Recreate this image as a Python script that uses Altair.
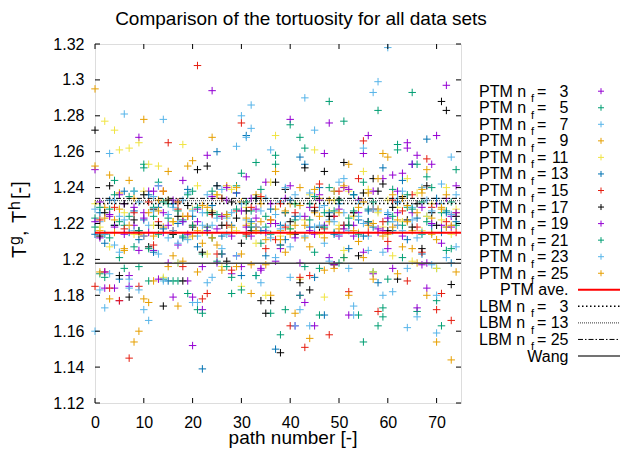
import altair as alt
import pandas as pd

FONT = "Liberation Sans"

# ---------------- data ----------------
path_number = list(range(75))
nf_values = [3, 5, 7, 9, 11, 13, 15, 17, 19, 21, 23, 25]

ptm03 = [1.250, 1.212, 1.184, 1.224, 1.184, 1.177, 1.231, 1.191, 1.219, 1.268,
         1.226, 1.238, 1.205, 1.241, 1.215, 1.198, 1.179, 1.232, 1.244, 1.188,
         1.152, 1.221, 1.196, 1.258, 1.294, 1.217, 1.203, 1.233, 1.192, 1.237,
         1.196, 1.246, 1.213, 1.228, 1.195, 1.243, 1.220, 1.199, 1.208, 1.234,
         1.278, 1.163, 1.198, 1.176, 1.229, 1.214, 1.236, 1.259, 1.201, 1.224,
         1.213, 1.240, 1.169, 1.219, 1.233, 1.259, 1.269, 1.192, 1.217, 1.245,
         1.206, 1.247, 1.238, 1.248, 1.265, 1.226, 1.258, 1.197, 1.198, 1.253,
         1.231, 1.219, 1.297, 1.224, 1.241]
ptm05 = [1.223, 1.192, 1.214, 1.228, 1.244, 1.201, 1.219, 1.235, 1.207, 1.196,
         1.253, 1.188, 1.224, 1.243, 1.189, 1.231, 1.214, 1.188, 1.222, 1.181,
         1.238, 1.172, 1.203, 1.226, 1.212, 1.199, 1.234, 1.219, 1.190, 1.241,
         1.248, 1.213, 1.227, 1.254, 1.209, 1.218, 1.170, 1.258, 1.158, 1.172,
         1.275, 1.222, 1.268, 1.196, 1.231, 1.204, 1.169, 1.226, 1.288, 1.215,
         1.198, 1.277, 1.223, 1.236, 1.169, 1.154, 1.228, 1.193, 1.283, 1.168,
         1.221, 1.239, 1.264, 1.201, 1.229, 1.293, 1.171, 1.232, 1.246, 1.215,
         1.195, 1.163, 1.227, 1.206, 1.250]
ptm07 = [1.160, 1.221, 1.173, 1.259, 1.208, 1.224, 1.281, 1.189, 1.216, 1.232,
         1.172, 1.219, 1.235, 1.203, 1.278, 1.212, 1.229, 1.198, 1.221, 1.237,
         1.176, 1.213, 1.226, 1.187, 1.219, 1.241, 1.206, 1.223, 1.215, 1.263,
         1.280, 1.222, 1.286, 1.191, 1.227, 1.216, 1.261, 1.201, 1.232, 1.219,
         1.190, 1.236, 1.224, 1.290, 1.163, 1.218, 1.229, 1.209, 1.222, 1.238,
         1.214, 1.226, 1.195, 1.169, 1.231, 1.220, 1.213, 1.293, 1.227, 1.204,
         1.318, 1.221, 1.234, 1.216, 1.162, 1.229, 1.212, 1.240, 1.224, 1.197,
         1.159, 1.231, 1.218, 1.257, 1.207]
ptm09 = [1.295, 1.216, 1.229, 1.178, 1.222, 1.237, 1.206, 1.244, 1.154, 1.214,
         1.278, 1.226, 1.188, 1.233, 1.218, 1.249, 1.202, 1.174, 1.224, 1.252,
         1.213, 1.193, 1.230, 1.218, 1.268, 1.208, 1.224, 1.241, 1.215, 1.196,
         1.232, 1.219, 1.197, 1.236, 1.221, 1.211, 1.180, 1.228, 1.216, 1.204,
         1.231, 1.219, 1.240, 1.212, 1.156, 1.226, 1.234, 1.194, 1.221, 1.238,
         1.217, 1.201, 1.253, 1.224, 1.210, 1.232, 1.219, 1.189, 1.228, 1.259,
         1.214, 1.236, 1.222, 1.207, 1.230, 1.216, 1.198, 1.237, 1.250, 1.223,
         1.211, 1.229, 1.218, 1.144, 1.226]
ptm11 = [1.231, 1.218, 1.277, 1.207, 1.272, 1.261, 1.226, 1.262, 1.214, 1.265,
         1.238, 1.253, 1.219, 1.252, 1.190, 1.233, 1.221, 1.198, 1.264, 1.212,
         1.228, 1.241, 1.215, 1.203, 1.227, 1.236, 1.196, 1.224, 1.239, 1.216,
         1.185, 1.229, 1.220, 1.209, 1.234, 1.180, 1.243, 1.269, 1.213, 1.226,
         1.217, 1.231, 1.189, 1.222, 1.236, 1.261, 1.214, 1.179, 1.227, 1.233,
         1.219, 1.205, 1.238, 1.224, 1.215, 1.249, 1.239, 1.193, 1.226, 1.218,
         1.233, 1.202, 1.229, 1.221, 1.245, 1.199, 1.237, 1.216, 1.224, 1.231,
         1.195, 1.222, 1.240, 1.214, 1.228]
ptm13 = [1.214, 1.226, 1.209, 1.233, 1.219, 1.189, 1.238, 1.215, 1.227, 1.211,
         1.222, 1.236, 1.204, 1.229, 1.217, 1.188, 1.231, 1.220, 1.212, 1.239,
         1.224, 1.207, 1.139, 1.218, 1.230, 1.260, 1.213, 1.225, 1.219, 1.237,
         1.191, 1.269, 1.221, 1.234, 1.216, 1.202, 1.228, 1.150, 1.219, 1.211,
         1.233, 1.224, 1.257, 1.253, 1.218, 1.190, 1.240, 1.169, 1.226, 1.214,
         1.231, 1.219, 1.206, 1.236, 1.222, 1.213, 1.227, 1.218, 1.187, 1.251,
         1.225, 1.216, 1.232, 1.244, 1.211, 1.253, 1.223, 1.203, 1.267, 1.219,
         1.234, 1.215, 1.226, 1.198, 1.221]
ptm15 = [1.185, 1.222, 1.193, 1.184, 1.229, 1.177, 1.217, 1.145, 1.226, 1.185,
         1.213, 1.232, 1.208, 1.221, 1.238, 1.265, 1.216, 1.228, 1.196, 1.224,
         1.219, 1.308, 1.178, 1.181, 1.225, 1.203, 1.234, 1.219, 1.194, 1.227,
         1.276, 1.214, 1.229, 1.218, 1.235, 1.206, 1.222, 1.211, 1.231, 1.218,
         1.163, 1.226, 1.190, 1.151, 1.191, 1.229, 1.242, 1.217, 1.158, 1.224,
         1.238, 1.219, 1.182, 1.226, 1.245, 1.266, 1.215, 1.228, 1.171, 1.221,
         1.210, 1.233, 1.219, 1.227, 1.188, 1.236, 1.218, 1.204, 1.256, 1.229,
         1.172, 1.181, 1.221, 1.166, 1.215]
ptm17 = [1.272, 1.213, 1.226, 1.241, 1.219, 1.191, 1.231, 1.179, 1.222, 1.216,
         1.236, 1.207, 1.228, 1.219, 1.174, 1.233, 1.214, 1.224, 1.188, 1.230,
         1.218, 1.250, 1.204, 1.252, 1.226, 1.241, 1.219, 1.199, 1.232, 1.223,
         1.209, 1.227, 1.216, 1.234, 1.177, 1.170, 1.177, 1.243, 1.148, 1.239,
         1.221, 1.214, 1.187, 1.251, 1.183, 1.227, 1.218, 1.249, 1.224, 1.197,
         1.233, 1.254, 1.219, 1.226, 1.202, 1.237, 1.221, 1.245, 1.238, 1.242,
         1.216, 1.229, 1.189, 1.235, 1.222, 1.218, 1.231, 1.206, 1.241, 1.226,
         1.219, 1.288, 1.283, 1.186, 1.224]
ptm19 = [1.221, 1.232, 1.193, 1.225, 1.218, 1.236, 1.214, 1.185, 1.229, 1.205,
         1.223, 1.215, 1.238, 1.189, 1.226, 1.219, 1.233, 1.208, 1.221, 1.214,
         1.179, 1.228, 1.172, 1.216, 1.235, 1.198, 1.224, 1.240, 1.213, 1.202,
         1.227, 1.218, 1.234, 1.223, 1.194, 1.215, 1.231, 1.220, 1.206, 1.226,
         1.241, 1.212, 1.180, 1.224, 1.216, 1.163, 1.233, 1.219, 1.276, 1.197,
         1.228, 1.217, 1.239, 1.213, 1.226, 1.204, 1.221, 1.238, 1.215, 1.216,
         1.223, 1.195, 1.226, 1.213, 1.262, 1.253, 1.173, 1.229, 1.184, 1.220,
         1.269, 1.209, 1.234, 1.218, 1.226]
ptm21 = [1.218, 1.229, 1.190, 1.212, 1.236, 1.221, 1.195, 1.224, 1.238, 1.216,
         1.251, 1.206, 1.229, 1.214, 1.232, 1.223, 1.188, 1.227, 1.213, 1.236,
         1.219, 1.229, 1.170, 1.215, 1.238, 1.225, 1.203, 1.196, 1.181, 1.228,
         1.183, 1.232, 1.218, 1.191, 1.239, 1.224, 1.214, 1.253, 1.208, 1.226,
         1.217, 1.231, 1.180, 1.262, 1.222, 1.235, 1.195, 1.218, 1.240, 1.227,
         1.233, 1.201, 1.219, 1.227, 1.214, 1.243, 1.221, 1.232, 1.163, 1.173,
         1.189, 1.224, 1.261, 1.219, 1.236, 1.228, 1.253, 1.214, 1.221, 1.240,
         1.177, 1.226, 1.205, 1.232, 1.219]
ptm23 = [1.228, 1.183, 1.214, 1.192, 1.233, 1.204, 1.222, 1.184, 1.238, 1.183,
         1.213, 1.166, 1.227, 1.241, 1.188, 1.225, 1.216, 1.209, 1.233, 1.211,
         1.227, 1.176, 1.219, 1.236, 1.190, 1.223, 1.239, 1.214, 1.226, 1.202,
         1.231, 1.268, 1.273, 1.218, 1.187, 1.234, 1.212, 1.225, 1.217, 1.240,
         1.207, 1.163, 1.172, 1.213, 1.237, 1.272, 1.219, 1.230, 1.199, 1.221,
         1.243, 1.245, 1.216, 1.174, 1.224, 1.262, 1.205, 1.228, 1.299, 1.180,
         1.226, 1.182, 1.219, 1.238, 1.195, 1.222, 1.168, 1.215, 1.233, 1.227,
         1.180, 1.242, 1.201, 1.225, 1.236]
ptm25 = [1.252, 1.193, 1.223, 1.247, 1.215, 1.228, 1.205, 1.219, 1.234, 1.160,
         1.178, 1.176, 1.213, 1.227, 1.238, 1.196, 1.221, 1.232, 1.199, 1.224,
         1.255, 1.216, 1.209, 1.229, 1.212, 1.236, 1.194, 1.225, 1.218, 1.240,
         1.203, 1.223, 1.181, 1.216, 1.231, 1.197, 1.222, 1.249, 1.211, 1.227,
         1.214, 1.170, 1.230, 1.219, 1.207, 1.239, 1.224, 1.212, 1.233, 1.195,
         1.226, 1.241, 1.180, 1.216, 1.229, 1.201, 1.237, 1.220, 1.245, 1.213,
         1.257, 1.218, 1.192, 1.234, 1.221, 1.206, 1.226, 1.239, 1.180, 1.214,
         1.154, 1.228, 1.236, 1.219, 1.193]

ptm_series = [ptm03, ptm05, ptm07, ptm09, ptm11, ptm13,
              ptm15, ptm17, ptm19, ptm21, ptm23, ptm25]
ptm_colors = ["#9400d3", "#009e73", "#56b4e9", "#e69f00", "#f0e442", "#0072b2",
              "#e51e10", "#000000", "#9400d3", "#009e73", "#56b4e9", "#e69f00"]

ptm_average = 1.2149
lbm_nf = [3, 13, 25]
lbm_values = [1.2312, 1.2327, 1.2340]
wang_value = 1.1978

x_ticks = [0, 10, 20, 30, 40, 50, 60, 70]
y_ticks = [1.12, 1.14, 1.16, 1.18, 1.2, 1.22, 1.24, 1.26, 1.28, 1.3, 1.32]

title_text = "Comparison of the tortuosity for all data sets"
x_title = "path number [-]"

# ---------------- layout ----------------
OX, OY = 95, 44          # plot origin in the window
W, H = 366, 359          # plot area
PLUS = "M-1,0L1,0M0,-1L0,1"

xs = alt.Scale(domain=[0, 75], nice=False, zero=False)
ys = alt.Scale(domain=[1.12, 1.32], nice=False, zero=False)

x_axis = alt.Axis(values=x_ticks, title=None, grid=False, ticks=False, domain=False,
                  labelFont=FONT, labelFontSize=16, labelColor="black",
                  labelPadding=11, labelFlush=False)
y_axis = alt.Axis(values=y_ticks, format="~g", title=None, grid=False, ticks=False,
                  domain=False, labelFont=FONT, labelFontSize=16, labelColor="black",
                  labelPadding=11, labelFlush=False)

names = [f"PTM {nf:02d}" for nf in nf_values]
rows = []
for k, (nm, vals) in enumerate(zip(names, ptm_series)):
    for p, v in zip(path_number, vals):
        rows.append({"path": p, "value": v, "series": nm, "k": k})
df = pd.DataFrame(rows)

points = alt.Chart(df).mark_point(
    shape=PLUS, filled=False, strokeWidth=1, size=56, opacity=1, clip=False
).encode(
    x=alt.X("path:Q", scale=xs, axis=x_axis),
    y=alt.Y("value:Q", scale=ys, axis=y_axis),
    color=alt.Color("series:N", scale=alt.Scale(domain=names, range=ptm_colors),
                    legend=None),
    order=alt.Order("k:Q"),
)

# inward tick marks
xt = pd.DataFrame({"path": x_ticks})
yt = pd.DataFrame({"value": y_ticks})
tick_len = 5
xtick_b = alt.Chart(xt).mark_rule(color="black", strokeWidth=1).encode(
    x=alt.X("path:Q", scale=xs, axis=x_axis), y=alt.value(H), y2=alt.value(H - tick_len))
xtick_t = alt.Chart(xt).mark_rule(color="black", strokeWidth=1).encode(
    x=alt.X("path:Q", scale=xs, axis=x_axis), y=alt.value(0), y2=alt.value(tick_len))
ytick_l = alt.Chart(yt).mark_rule(color="black", strokeWidth=1).encode(
    y=alt.Y("value:Q", scale=ys, axis=y_axis), x=alt.value(0), x2=alt.value(tick_len))
ytick_r = alt.Chart(yt).mark_rule(color="black", strokeWidth=1).encode(
    y=alt.Y("value:Q", scale=ys, axis=y_axis), x=alt.value(W - tick_len), x2=alt.value(W))

# horizontal reference lines
def hline(value, **style):
    return alt.Chart(pd.DataFrame({"value": [value]})).mark_rule(**style).encode(
        y=alt.Y("value:Q", scale=ys, axis=y_axis), x=alt.value(0), x2=alt.value(W))

styles = {
    "ave": dict(color="#ff0000", strokeWidth=2),
    "lbm3": dict(color="black", strokeWidth=1.5, strokeDash=[1.5, 2.5]),
    "lbm13": dict(color="#333333", strokeWidth=1, strokeDash=[1, 1]),
    "lbm25": dict(color="black", strokeWidth=1, strokeDash=[5, 2, 1.5, 2]),
    "wang": dict(color="#444444", strokeWidth=1.5),
}
lines = [hline(ptm_average, **styles["ave"]),
         hline(lbm_values[0], **styles["lbm3"]),
         hline(lbm_values[1], **styles["lbm13"]),
         hline(lbm_values[2], **styles["lbm25"]),
         hline(wang_value, **styles["wang"])]

# ---------------- legend (built from text / points / rules) ----------------
row_base0 = 96.7     # baseline of first legend row (window px)
row_step = 16.55
text_left = 479
text_right = 568.5
sub_x = 531
eq_x = 537
sym_x = 601
line_x1, line_x2 = 578, 622

def base_y(i):
    return row_base0 + i * row_step - OY

leg_rows = []
for i, nf in enumerate(nf_values):
    leg_rows.append(("PTM n", str(nf), i))
for j, nf in enumerate(lbm_nf):
    leg_rows.append(("LBM n", str(nf), 13 + j))

pref_df = pd.DataFrame({"x": [text_left - OX] * len(leg_rows),
                        "y": [base_y(r[2]) for r in leg_rows],
                        "t": [r[0] for r in leg_rows]})
sub_df = pd.DataFrame({"x": [sub_x - OX] * len(leg_rows),
                       "y": [base_y(r[2]) + 5.5 for r in leg_rows],
                       "t": ["f"] * len(leg_rows)})
eq_df = pd.DataFrame({"x": [eq_x - OX] * len(leg_rows),
                      "y": [base_y(r[2]) for r in leg_rows],
                      "t": ["="] * len(leg_rows)})
num_df = pd.DataFrame({"x": [text_right - OX] * len(leg_rows),
                       "y": [base_y(r[2]) for r in leg_rows],
                       "t": [r[1] for r in leg_rows]})
right_df = pd.DataFrame({"x": [text_right - OX] * 2,
                         "y": [base_y(12), base_y(16)],
                         "t": ["PTM ave.", "Wang"]})

def text_layer(d, align, size, **kw):
    return alt.Chart(d).mark_text(align=align, baseline="alphabetic", font=FONT,
                                  fontSize=size, color="black", **kw).encode(
        x=alt.X("x:Q", scale=None, axis=None),
        y=alt.Y("y:Q", scale=None, axis=None),
        text="t:N")

sym_df = pd.DataFrame({"x": [sym_x - OX] * 12,
                       "y": [base_y(i) - 5.5 for i in range(12)],
                       "c": ptm_colors})
legend_syms = alt.Chart(sym_df).mark_point(
    shape=PLUS, filled=False, strokeWidth=1, size=36, opacity=1, clip=False
).encode(x=alt.X("x:Q", scale=None, axis=None),
         y=alt.Y("y:Q", scale=None, axis=None),
         color=alt.Color("c:N", scale=None))

def leg_line(i, st):
    yy = base_y(i) - 5.5
    return alt.Chart(pd.DataFrame({"a": [0]})).mark_rule(clip=False, **st).encode(
        x=alt.value(line_x1 - OX), x2=alt.value(line_x2 - OX), y=alt.value(yy))

legend_lines = [leg_line(12, styles["ave"]), leg_line(13, styles["lbm3"]),
                leg_line(14, styles["lbm13"]), leg_line(15, styles["lbm25"]),
                leg_line(16, styles["wang"])]

# ---------------- titles ----------------
title_df = pd.DataFrame({"x": [301 - OX], "y": [25 - OY], "t": [title_text]})
xlab_df = pd.DataFrame({"x": [293 - OX], "y": [444 - OY], "t": [x_title]})

# y label pieces: T^g, T^h [-]  (rotated)
ylab_df = pd.DataFrame({
    "x": [26 - OX, 20 - OX, 26 - OX, 26 - OX, 20 - OX, 26 - OX],
    "y": [258 - OY, 245 - OY, 236 - OY, 223 - OY, 210 - OY, 199 - OY],
    "t": ["T", "g", ",", "T", "h", "[-]"],
    "fs": [20, 16, 20, 20, 16, 20],
})
ylab = alt.Chart(ylab_df).mark_text(align="left", baseline="alphabetic", font=FONT,
                                    angle=270, color="black").encode(
    x=alt.X("x:Q", scale=None, axis=None),
    y=alt.Y("y:Q", scale=None, axis=None),
    text="t:N",
    size=alt.Size("fs:Q", scale=None, legend=None))

chart = alt.layer(
    points, *lines, xtick_b, xtick_t, ytick_l, ytick_r,
    text_layer(pref_df, "left", 16), text_layer(sub_df, "left", 11),
    text_layer(eq_df, "left", 16), text_layer(num_df, "right", 16),
    text_layer(right_df, "right", 16),
    legend_syms, *legend_lines,
    text_layer(title_df, "center", 19), text_layer(xlab_df, "center", 19),
    ylab,
).properties(
    width=W, height=H,
    autosize=alt.AutoSizeParams(type="none"),
    padding={"left": OX, "top": OY, "right": 620 - OX - W, "bottom": 454 - OY - H},
).configure_view(stroke="black", strokeWidth=1).configure(background="white")

chart.save("out.html", embed_options={"renderer": "svg", "actions": False})
